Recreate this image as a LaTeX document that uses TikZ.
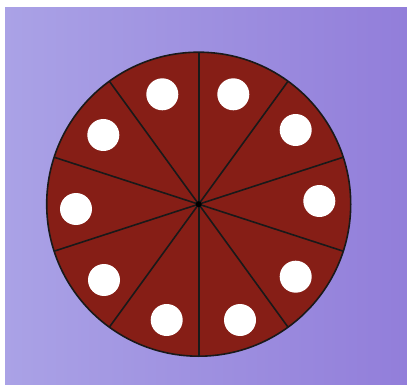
\documentclass[tikz,border=0pt]{standalone}
\usetikzlibrary{calc}
\definecolor{bgleft}{RGB}{170,162,230}
\definecolor{bgright}{RGB}{146,126,218}
\definecolor{pie}{RGB}{134,30,22}
\tikzset{
  divider/.style={draw=black!90, line width=1.6pt},
  hole/.style={fill=white},
}
\begin{document}
\begin{tikzpicture}[x=1pt,y=-1pt]
\useasboundingbox (0,0) rectangle (407,385);
\fill[white] (0,0) rectangle (407,385);
\shade[left color=bgleft, right color=bgright] (5,8) rectangle (407,385);
\coordinate (c) at (198.7,204.2);
\fill[pie] (c) circle[radius=152];
\foreach \a in {90,126,162,198,234,270,306,342,18,54}
  \draw[divider] (c) -- ($(c)+({152*cos(\a)},{-152*sin(\a)})$);
\draw[black!90, line width=1.6pt] (c) circle[radius=152];
\fill[black] (c) circle[radius=3];
\foreach \x/\y in {162.3/94.3, 233.3/94.3, 295.7/130, 319.3/201, 295.7/276.7, 240/320, 166.7/320, 104/280, 76/209, 103.3/135}
  \fill[hole] (\x,\y) circle[radius=16];
\end{tikzpicture}
\end{document}
